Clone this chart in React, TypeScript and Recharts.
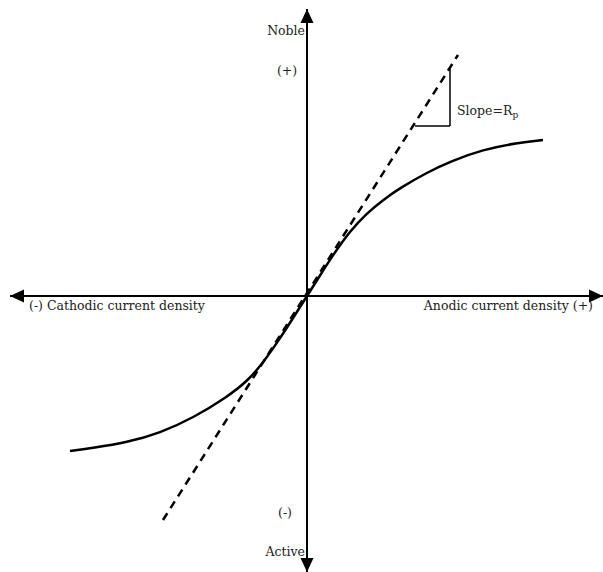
import React from "react";
import { ComposedChart, Line, XAxis, YAxis, ReferenceLine } from "recharts";

// polarization curve (current density vs potential)
const curveX = [
  -2.37, -2.14, -1.8, -1.47, -1.14, -0.8, -0.6, -0.44, -0.26, -0.13, 0,
  0.13, 0.26, 0.43, 0.6, 0.76, 0.93, 1.2, 1.43, 1.76, 2.1, 2.36,
];
const curveY = [
  -1.55, -1.52, -1.465, -1.37, -1.22, -1.01, -0.855, -0.67, -0.41, -0.205, 0,
  0.205, 0.41, 0.65, 0.83, 0.96, 1.08, 1.235, 1.345, 1.465, 1.53, 1.56,
];

// tangent at the origin (slope = Rp)
const tangentX = [-1.44, 1.51];
const tangentY = [-2.24, 2.41];

// slope triangle corners
const triX = [1.08, 1.43];
const triY = [1.7, 2.27];

const xLabels = ["(-) Cathodic current density", "Anodic current density (+)"];
const yLabels = ["Noble", "(+)", "(-)", "Active"];

const curve = curveX.map((x, i) => ({ x, y: curveY[i] }));
const tangent = tangentX.map((x, i) => ({ x, y: tangentY[i] }));

const FONT = "'DejaVu Serif', serif";
const FS = 12.5;
const W = 603;
const H = 572;

const arrowHead = (tx: number, ty: number, fx: number, fy: number) => {
  // tip at (tx,ty), pointing away from (fx,fy)
  const len = Math.hypot(tx - fx, ty - fy) || 1;
  const ux = (tx - fx) / len;
  const uy = (ty - fy) / len;
  const hl = 14;
  const hw = 6.5;
  const bx = tx - ux * hl;
  const by = ty - uy * hl;
  return `${tx},${ty} ${bx - uy * hw},${by + ux * hw} ${bx + uy * hw},${by - ux * hw}`;
};

const HorizontalAxis = (p: any) => {
  const { x1, y1, x2, y2 } = p;
  const y = y1;
  return (
    <g>
      <line x1={x1} y1={y1} x2={x2} y2={y2} stroke="#000" strokeWidth={2} />
      <polygon points={arrowHead(x1, y1, x2, y2)} fill="#000" />
      <polygon points={arrowHead(x2, y2, x1, y1)} fill="#000" />
      <text x={29} y={y + 14} fontFamily={FONT} fontSize={FS} fill="#222">
        {xLabels[0]}
      </text>
      <text x={593} y={y + 14} fontFamily={FONT} fontSize={FS} fill="#222" textAnchor="end">
        {xLabels[1]}
      </text>
    </g>
  );
};

const VerticalAxis = (p: any) => {
  const { x1, y1, x2, y2 } = p;
  const x = x1;
  const top = Math.min(y1, y2);
  const bottom = Math.max(y1, y2);
  return (
    <g>
      <line x1={x1} y1={y1} x2={x2} y2={y2} stroke="#000" strokeWidth={2} />
      <polygon points={arrowHead(x1, y1, x2, y2)} fill="#000" />
      <polygon points={arrowHead(x2, y2, x1, y1)} fill="#000" />
      <text x={x - 2} y={top + 26} fontFamily={FONT} fontSize={FS} fill="#222" textAnchor="end">
        {yLabels[0]}
      </text>
      <text x={x - 20} y={top + 66} fontFamily={FONT} fontSize={FS} fill="#222" textAnchor="middle">
        {yLabels[1]}
      </text>
      <text x={x - 22} y={bottom - 55} fontFamily={FONT} fontSize={FS} fill="#222" textAnchor="middle">
        {yLabels[2]}
      </text>
      <text x={x - 2} y={bottom - 16} fontFamily={FONT} fontSize={FS} fill="#222" textAnchor="end">
        {yLabels[3]}
      </text>
    </g>
  );
};

const SlopeSide = (p: any) => {
  const { x1, y1, x2, y2 } = p;
  return (
    <g>
      <line x1={x1} y1={y1} x2={x2} y2={y2} stroke="#000" strokeWidth={1.5} />
      <text x={x1 + 7} y={Math.max(y1, y2) - 11} fontFamily={FONT} fontSize={FS} fill="#222">
        Slope=R
        <tspan dy={3} fontSize={9}>
          p
        </tspan>
      </text>
    </g>
  );
};

export default function App() {
  return (
    <div style={{ position: "absolute", left: 0, top: 0, width: W, height: H, background: "#fff" }}>
      <ComposedChart width={W} height={H} margin={{ top: 9, right: 0, bottom: 0, left: 10 }}>
        <XAxis type="number" dataKey="x" domain={[-2.97, 2.96]} hide allowDataOverflow />
        <YAxis type="number" dataKey="y" domain={[-2.76, 2.87]} hide allowDataOverflow />
        <ReferenceLine y={0} shape={HorizontalAxis} ifOverflow="visible" />
        <ReferenceLine x={0} shape={VerticalAxis} ifOverflow="visible" />
        <Line
          data={tangent}
          dataKey="y"
          type="linear"
          stroke="#000"
          strokeWidth={2.5}
          strokeDasharray="8 6"
          dot={false}
          isAnimationActive={false}
        />
        <Line
          data={curve}
          dataKey="y"
          type="basis"
          stroke="#000"
          strokeWidth={2.5}
          dot={false}
          isAnimationActive={false}
        />
        <ReferenceLine
          segment={[
            { x: triX[1], y: triY[1] },
            { x: triX[1], y: triY[0] },
          ]}
          shape={SlopeSide}
          ifOverflow="visible"
        />
        <ReferenceLine
          segment={[
            { x: triX[0], y: triY[0] },
            { x: triX[1], y: triY[0] },
          ]}
          stroke="#000"
          strokeWidth={1.5}
          ifOverflow="visible"
        />
      </ComposedChart>
    </div>
  );
}
